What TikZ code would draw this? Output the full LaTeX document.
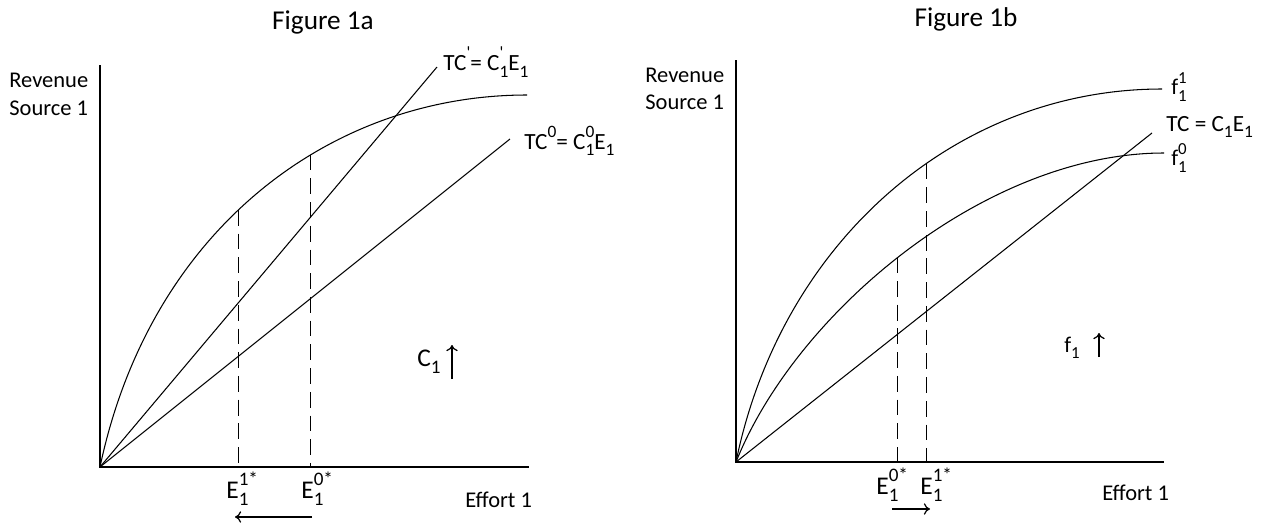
\documentclass[tikz,border=0pt]{standalone}
\usepackage{fontspec}
\setmainfont{Carlito}
\usetikzlibrary{arrows.meta}
\usetikzlibrary{scopes}

%% indices at 3/4 of the running size
\makeatletter
\newcommand{\ixfont}[1]{{\edef\ix@size{\strip@pt\dimexpr0.75\dimexpr\f@size pt\relax\relax}%
	\fontsize{\ix@size}{\ix@size}\selectfont #1}}
\makeatother
\newcommand{\lowix}[1]{\raisebox{-0.6ex}{\ixfont{#1}}}
\newcommand{\highix}[1]{\raisebox{1.05ex}{\ixfont{#1}}}
%% E with sub and sup stacked
\newcommand{\stackix}[3]{#1\rlap{\highix{#3}}\lowix{#2}}

\begin{document}
\begin{tikzpicture}[x=0.02cm,y=-0.02cm,
		axis/.style={line width=1.1pt},
		curve/.style={line width=0.6pt},
		guide/.style={line width=0.6pt, dash pattern=on 9pt off 4.5pt},
		moveto/.style={line width=0.7pt, -{To[length=3.5pt,width=6.5pt]}},
		title/.style={font=\fontsize{15.5}{17}\selectfont, inner sep=0pt},
		lbl/.style={font=\fontsize{12.8}{15}\selectfont, inner sep=0pt},
		curvelbl/.style={font=\fontsize{13.2}{15}\selectfont, inner sep=0pt, anchor=west},
		big/.style={font=\fontsize{14.5}{16}\selectfont, inner sep=0pt}]
	\useasboundingbox (0,0) rectangle (1269,525);

	%% Figure 1a
	\node[title] (titleA) at (323,22) {Figure 1a};
	\coordinate (OA) at (100,467);
	\coordinate (yA) at (100,65);
	\coordinate (xA) at (529,467);
	\draw[axis] (yA) -- (OA) -- (xA);
	\node[lbl, anchor=west] (revA) at (9,80) {Revenue};
	\node[lbl, anchor=west] (srcA) at (9,108) {Source 1};
	\node[lbl, anchor=west] (effA) at (465,500) {Effort 1};

	\draw[curve] (OA) .. controls (150,230) and (330,95) .. (527,95)
		coordinate[pos=0.455] (topA1)
		coordinate[pos=0.61] (topA0);
	\coordinate (tc1end) at (437,67);
	\coordinate (tc0end) at (510,139);
	\draw[curve] (OA) -- (tc1end);
	\draw[curve] (OA) -- (tc0end);
	\node[curvelbl] (tc1) at (443,62)
		{TC\highix{\textquotesingle}= \stackix{C}{1}{\textquotesingle}E\lowix{1}};
	\node[curvelbl] (tc0) at (524,141)
		{TC\highix{0}= \stackix{C}{1}{0}E\lowix{1}};

	\draw[guide] (topA1) -- (topA1 |- OA);
	\draw[guide] (topA0) -- (topA0 |- OA);
	\node[big, anchor=north west] (eA1) at (226,472) {\stackix{E}{1}{1*}};
	\node[big, anchor=north west] (eA0) at (301,472) {\stackix{E}{1}{0*}};
	\coordinate (arrA0) at (312,517);
	\coordinate (arrA1) at (235,517);
	\draw[moveto] (arrA0) -- (arrA1);

	\node[big, anchor=west] (cUp) at (417,362) {C\lowix{1}};
	\coordinate (cUpB) at (452,379);
	\coordinate (cUpT) at (452,345);
	\draw[moveto] (cUpB) -- (cUpT);

	%% Figure 1b
	\node[title] (titleB) at (966,19) {Figure 1b};
	\coordinate (OB) at (736,462);
	\coordinate (yB) at (736,60);
	\coordinate (xB) at (1164,462);
	\draw[axis] (yB) -- (OB) -- (xB);
	\node[lbl, anchor=west] (revB) at (645,75) {Revenue};
	\node[lbl, anchor=west] (srcB) at (645,102) {Source 1};
	\node[lbl, anchor=west] (effB) at (1102,493) {Effort 1};

	\draw[curve] (OB) .. controls (781,242) and (956,89) .. (1162,89)
		coordinate[pos=0.58] (topB1);
	\draw[curve] (OB) .. controls (796,312) and (986,153) .. (1164,153)
		coordinate[pos=0.483] (topB0);
	\coordinate (tcend) at (1152,133);
	\draw[curve] (OB) -- (tcend);
	\node[lbl, anchor=west] (fB1) at (1171,87) {\stackix{f}{1}{1}};
	\node[curvelbl] (tcB) at (1166,127) {TC = C\lowix{1}E\lowix{1}};
	\node[lbl, anchor=west] (fB0) at (1171,158) {\stackix{f}{1}{0}};

	\draw[guide] (topB0) -- (topB0 |- OB);
	\draw[guide] (topB1) -- (topB1 |- OB);
	\node[big, anchor=north west] (eB0) at (876,468) {\stackix{E}{1}{0*}};
	\node[big, anchor=north west] (eB1) at (920,468) {\stackix{E}{1}{1*}};
	\coordinate (arrB0) at (892,509);
	\coordinate (arrB1) at (930,509);
	\draw[moveto] (arrB0) -- (arrB1);

	\node[lbl, anchor=west] (fUp) at (1064,348) {f\lowix{1}};
	\coordinate (fUpB) at (1099,357);
	\coordinate (fUpT) at (1099,333);
	\draw[moveto] (fUpB) -- (fUpT);
\end{tikzpicture}
\end{document}
